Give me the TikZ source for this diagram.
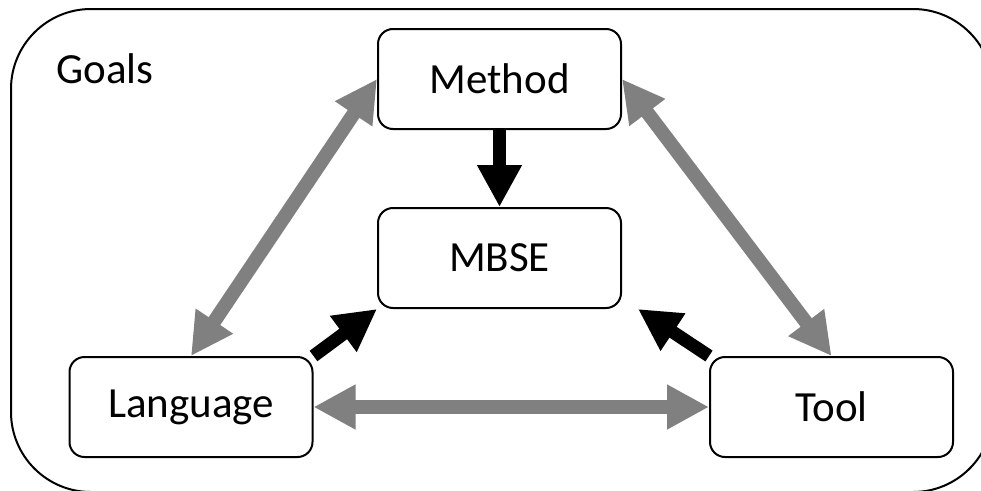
\documentclass[tikz,border=0pt]{standalone}
\usepackage{fontspec}
\setmainfont{Carlito}
\usetikzlibrary{arrows.meta,calc}
\tikzset{
  box/.style={draw=black, line width=2pt, rounded corners=15pt, fill=white,
    minimum width=243pt, minimum height=100pt, inner sep=0pt, font=\fontsize{43}{50}\selectfont},
  grayarrow/.style={draw=gray, line width=14pt,
    {Triangle[length=42pt,width=42pt]}-{Triangle[length=42pt,width=42pt]}},
  blackarrow/.style={draw=black, line width=13pt,
    -{Triangle[length=42pt,width=42pt]}},
}
\begin{document}
\begin{tikzpicture}[x=1pt,y=-1pt]
\useasboundingbox (0,0) rectangle (981,490);
\begin{scope}
\clip (0,0) rectangle (981,490);
\draw[line width=2pt, rounded corners=80pt] (11,9) rectangle (993,492);
\end{scope}
\node[anchor=base west, font=\fontsize{43}{50}\selectfont] (goals) at (53,83) {Goals};
\node[box] (method) at (499.5,79) {Method};
\node[box] (mbse) at (499.5,258) {MBSE};
\node[box] (lang) at (191,407) {Language};
\node[box] (tool) at (831.5,407) {Tool};
\coordinate (mtip) at ($(mbse.south east)+(16,0)$);
\draw[grayarrow] (method.west) -- (lang.north);
\draw[grayarrow] (method.east) -- (tool.north);
\draw[grayarrow] (lang.east) -- (tool.west);
\draw[blackarrow] (method.south) -- (mbse.north);
\draw[blackarrow] (lang.north east) -- (mbse.south west);
\draw[blackarrow] (tool.north west) -- (mtip);
\end{tikzpicture}
\end{document}
